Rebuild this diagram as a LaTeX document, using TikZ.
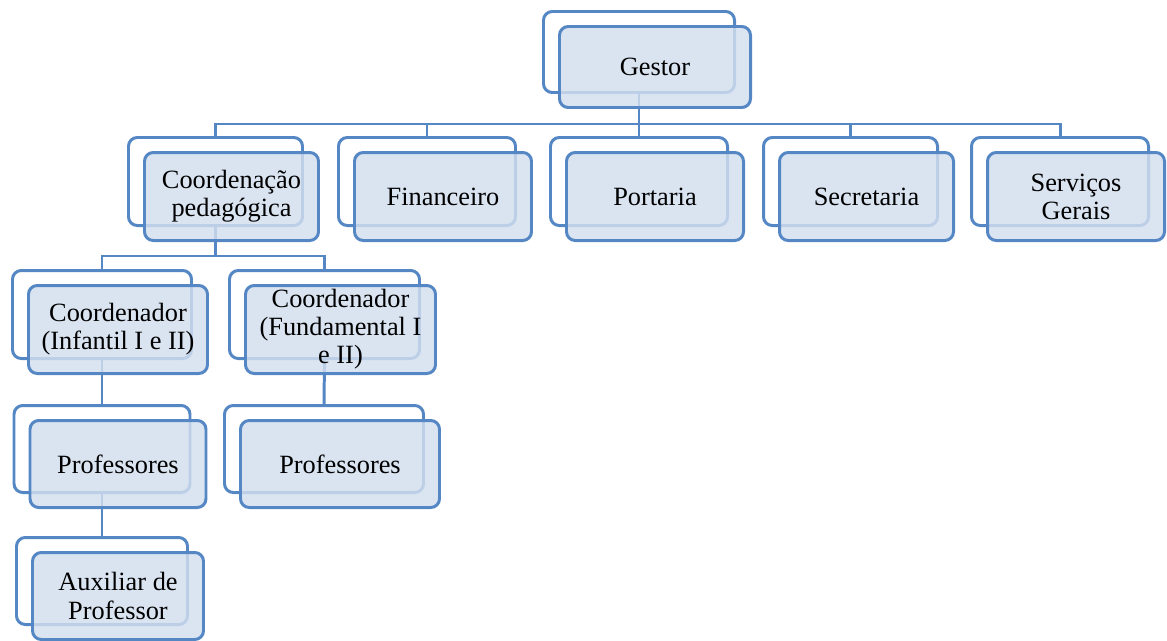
\documentclass[tikz,border=0pt]{standalone}
\usepackage{fontspec}
\setmainfont{Liberation Serif}
\usepackage{tikz}
\definecolor{rand}{RGB}{84,135,196}
\definecolor{fuell}{RGB}{211,223,239}

\begin{document}
\begin{tikzpicture}[x=0.02cm,y=-0.02cm,
  groesse/.style 2 args={minimum width=#1*0.02cm,minimum height=#2*0.02cm},
  hinten/.style={draw=rand,line width=1.7pt,fill=white,rounded corners=5pt,inner sep=0pt},
  vorne/.style={draw=rand,line width=1.7pt,fill=fuell,fill opacity=0.82,text opacity=1,
    rounded corners=5pt,inner sep=0pt,align=center,font=\fontsize{15}{16}\selectfont},
  linie/.style={draw=rand,line width=1.7pt}]
\useasboundingbox (0,0) rectangle (1167,640);

%Rahmen hinten
\node[hinten,groesse={191}{81}] (gestor-b) at (639,52) {};
\node[hinten,groesse={174}{88}] (coord-b) at (215.5,181.5) {};
\node[hinten,groesse={177}{88}] (fin-b) at (427,181.5) {};
\node[hinten,groesse={177}{88}] (port-b) at (639,181.5) {};
\node[hinten,groesse={174}{88}] (sec-b) at (850.5,181.5) {};
\node[hinten,groesse={177}{88}] (serv-b) at (1060,181.5) {};
\node[hinten,groesse={179}{88}] (inf-b) at (102,314.5) {};
\node[hinten,groesse={190}{88}] (fund-b) at (324.5,314.5) {};
\node[hinten,groesse={176}{87}] (profa-b) at (102,449) {};
\node[hinten,groesse={199}{87}] (profb-b) at (324,449) {};
\node[hinten,groesse={171}{87}] (aux-b) at (102,581) {};

%Linien
\draw[linie] (gestor-b.south) -- ++(0,30) coordinate (g1);
\foreach \n in {coord,fin,port,sec,serv}
  \draw[linie] (g1) -| (\n-b.north);
\draw[linie] (coord-b.south) -- ++(0,29) coordinate (c1);
\draw[linie] (c1) -| (inf-b.north);
\draw[linie] (c1) -| (fund-b.north);
\draw[linie] (inf-b.south) -- (profa-b.north);
\draw[linie] (fund-b.south) -- (profb-b.north);
\draw[linie] (profa-b.south) -- (aux-b.north);

%Rahmen vorne
\node[vorne,groesse={191}{81}] (gestor) at (655,67) {Gestor};
\node[vorne,groesse={174}{88}] (coord) at (231.5,196.5) {Coordenação\\pedagógica};
\node[vorne,groesse={177}{88}] (fin) at (443,196.5) {Financeiro};
\node[vorne,groesse={177}{88}] (port) at (655,196.5) {Portaria};
\node[vorne,groesse={174}{88}] (sec) at (866.5,196.5) {Secretaria};
\node[vorne,groesse={177}{88}] (serv) at (1076,196.5) {Serviços\\Gerais};
\node[vorne,groesse={179}{88}] (inf) at (118,329.5) {Coordenador\\(Infantil I e II)};
\node[vorne,groesse={190}{88}] (fund) at (340.5,329.5) {Coordenador\\(Fundamental I\\e II)};
\node[vorne,groesse={176}{87}] (profa) at (118,464) {Professores};
\node[vorne,groesse={199}{87}] (profb) at (340,464) {Professores};
\node[vorne,groesse={171}{87}] (aux) at (118,596) {Auxiliar de\\Professor};
\end{tikzpicture}
\end{document}
